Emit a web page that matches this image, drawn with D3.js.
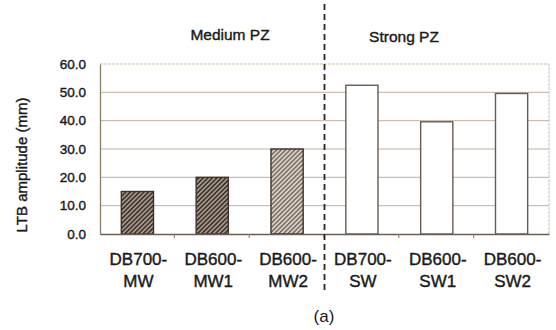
<!DOCTYPE html>
<html>
<head>
<meta charset="utf-8">
<script src="https://cdn.jsdelivr.net/npm/d3@7"></script>
<style>
  body { margin: 0; background: #fff; }
  svg { display: block; font-family: "Liberation Sans", Arial, sans-serif; }
  .t { fill: #1a1a1a; stroke: #1a1a1a; stroke-width: 0.4px; }
</style>
</head>
<body>
<svg id="chart"></svg>
<script>
// data
const categories = ["DB700-MW", "DB600-MW1", "DB600-MW2", "DB700-SW", "DB600-SW1", "DB600-SW2"];
const labelTop = ["DB700-", "DB600-", "DB600-", "DB700-", "DB600-", "DB600-"];
const labelBottom = ["MW", "MW1", "MW2", "SW", "SW1", "SW2"];
const amplitude = [15.0, 20.0, 30.0, 52.5, 39.6, 49.6];
const fillKind = ["dark", "dark", "light", "open", "open", "open"];
const yTicks = [0, 10, 20, 30, 40, 50, 60];
const groups = ["Medium PZ", "Strong PZ"];

const W = 556, H = 330;
const svg = d3.select("#chart").attr("width", W).attr("height", H);

const margin = {top: 64, right: 7, bottom: 96, left: 100};
const x = d3.scaleBand()
    .domain(categories)
    .range([margin.left, W - margin.right])
    .paddingInner(0.57)
    .paddingOuter(0.285);
const y = d3.scaleLinear()
    .domain([0, 60])
    .range([H - margin.bottom, margin.top]);

// hatch patterns
const defs = svg.append("defs");
function hatch(id, bg, line) {
    let p = defs.append("pattern")
        .attr("id", id)
        .attr("patternUnits", "userSpaceOnUse")
        .attr("width", 3.2).attr("height", 3.2)
        .attr("patternTransform", "rotate(45)");
    p.append("rect").attr("width", 3.2).attr("height", 3.2).attr("fill", bg);
    p.append("rect").attr("width", 1.5).attr("height", 3.2).attr("fill", line);
}
hatch("hatchDark", "#a59a8c", "#3a2f28");
hatch("hatchLight", "#d8d2c8", "#7a6e62");

const fills = {dark: "url(#hatchDark)", light: "url(#hatchLight)", open: "#ffffff"};

const plotLeft = margin.left, plotRight = W - margin.right;

// gridlines
svg.append("g")
    .selectAll("line")
    .data(yTicks.filter(d => d > 0 && d < 60))
    .enter()
    .append("line")
        .attr("x1", plotLeft).attr("x2", plotRight)
        .attr("y1", d => y(d)).attr("y2", d => y(d))
        .attr("stroke", "#bfb2a0")
        .attr("stroke-width", 1);

// top and right border (light dotted)
svg.append("path")
    .attr("d", `M${plotLeft},${y(60)}H${plotRight}V${y(0)}`)
    .attr("fill", "none")
    .attr("stroke", "#cbbfae")
    .attr("stroke-width", 1)
    .attr("stroke-dasharray", "3,1");

// bars
svg.append("g")
    .selectAll("rect")
    .data(categories)
    .enter()
    .append("rect")
        .attr("x", d => x(d))
        .attr("width", x.bandwidth())
        .attr("y", (d, i) => y(amplitude[i]))
        .attr("height", (d, i) => y(0) - y(amplitude[i]))
        .attr("fill", (d, i) => fills[fillKind[i]])
        .attr("stroke", (d, i) => fillKind[i] == "open" ? "#6a5a4e" : "#3e322a")
        .attr("stroke-width", 1.4);

// y axis
const yAxis = svg.append("g")
    .attr("transform", `translate(${plotLeft},0)`)
    .call(d3.axisLeft(y).tickValues(yTicks).tickFormat(d3.format(".1f")).tickSize(0).tickPadding(14));
yAxis.select(".domain").attr("stroke", "#8a7a68").attr("stroke-width", 1.3);
yAxis.selectAll("text")
    .attr("class", "t")
    .attr("font-size", 13.5)
    .attr("font-family", "Liberation Sans, Arial, sans-serif");

// x axis: baseline with small ticks between categories
const step = x.step();
const xAxis = svg.append("g")
    .attr("transform", `translate(0,${y(0)})`)
    .call(d3.axisBottom(x).tickSize(0).tickFormat(""));
xAxis.select(".domain").attr("stroke", "#6e5e50").attr("stroke-width", 1.5);
xAxis.selectAll(".sep")
    .data(categories.slice(1))
    .enter()
    .append("line")
        .attr("x1", d => x(d) - step * 0.285 - 0.5)
        .attr("x2", d => x(d) - step * 0.285 - 0.5)
        .attr("y1", 0).attr("y2", 4)
        .attr("stroke", "#8a7a68");

// category labels (two lines)
const lab = svg.append("g")
    .attr("font-size", 17)
    .attr("text-anchor", "middle");
lab.selectAll(".l1")
    .data(categories)
    .enter()
    .append("text")
        .attr("class", "t")
        .attr("x", d => x(d) + x.bandwidth() / 2 + 1)
        .attr("y", 265)
        .text((d, i) => labelTop[i]);
lab.selectAll(".l2")
    .data(categories)
    .enter()
    .append("text")
        .attr("class", "t")
        .attr("x", d => x(d) + x.bandwidth() / 2 + 1)
        .attr("y", 287)
        .text((d, i) => labelBottom[i]);

// y title
svg.append("text")
    .attr("class", "t")
    .attr("transform", `translate(27,${(y(0) + y(60)) / 2 + 16}) rotate(-90)`)
    .attr("text-anchor", "middle")
    .attr("font-size", 15)
    .text("LTB amplitude (mm)");

// group headers
const divX = (x(categories[2]) + x.bandwidth() + x(categories[3])) / 2;
svg.append("text")
    .attr("class", "t")
    .attr("x", 230).attr("y", 40)
    .attr("text-anchor", "middle")
    .attr("font-size", 15.5)
    .text(groups[0]);
svg.append("text")
    .attr("class", "t")
    .attr("x", 404).attr("y", 42)
    .attr("text-anchor", "middle")
    .attr("font-size", 15.5)
    .text(groups[1]);

// dashed divider
svg.append("line")
    .attr("x1", divX).attr("x2", divX)
    .attr("y1", 4).attr("y2", 290)
    .attr("stroke", "#2a221c")
    .attr("stroke-width", 1.8)
    .attr("stroke-dasharray", "6,4");

// caption
svg.append("text")
    .attr("x", 324).attr("y", 322)
    .attr("text-anchor", "middle")
    .attr("font-size", 17)
    .attr("fill", "#1a1a1a")
    .text("(a)");
</script>
</body>
</html>
